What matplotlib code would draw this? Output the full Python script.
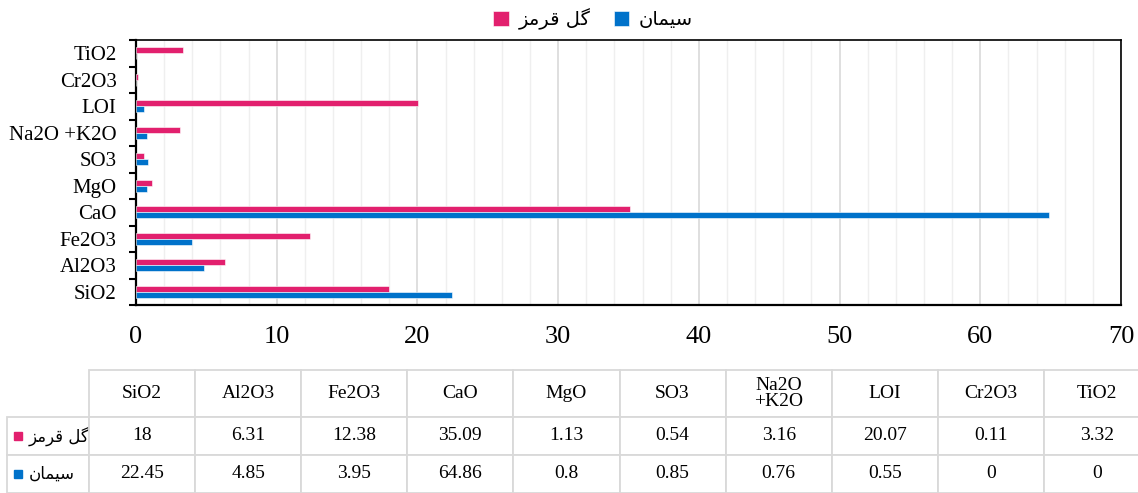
import matplotlib
matplotlib.use('Agg')
import matplotlib.pyplot as plt
from matplotlib.ticker import MultipleLocator
import numpy as np

plt.rcParams['font.family'] = ['Liberation Serif', 'DejaVu Sans']

# داده‌ها
categories = ['SiO2', 'Al2O3', 'Fe2O3', 'CaO', 'MgO', 'SO3', 'Na2O +K2O', 'LOI', 'Cr2O3', 'TiO2']
table_headers = ['SiO2', 'Al2O3', 'Fe2O3', 'CaO', 'MgO', 'SO3', 'Na2O\n+K2O', 'LOI', 'Cr2O3', 'TiO2']
red_mud = [18, 6.31, 12.38, 35.09, 1.13, 0.54, 3.16, 20.07, 0.11, 3.32]
cement = [22.45, 4.85, 3.95, 64.86, 0.8, 0.85, 0.76, 0.55, 0, 0]
red_mud_label = 'گل قرمز'
cement_label = 'سیمان'

PINK = '#E2206E'
BLUE = '#0072CA'
GRID = '#d9d9d9'

# matplotlib does no Arabic shaping: pick presentation forms by hand
FA_FORMS = {
    'س': ('\uFEB1', '\uFEB2', '\uFEB3', '\uFEB4'),
    'ی': ('\uFBFC', '\uFBFD', '\uFBFE', '\uFBFF'),
    'م': ('\uFEE1', '\uFEE2', '\uFEE3', '\uFEE4'),
    'ا': ('\uFE8D', '\uFE8E', None, None),
    'ن': ('\uFEE5', '\uFEE6', '\uFEE7', '\uFEE8'),
    'گ': ('\uFB92', '\uFB93', '\uFB94', '\uFB95'),
    'ل': ('\uFEDD', '\uFEDE', '\uFEDF', '\uFEE0'),
    'ق': ('\uFED5', '\uFED6', '\uFED7', '\uFED8'),
    'ر': ('\uFEAD', '\uFEAE', None, None),
    'ز': ('\uFEAF', '\uFEB0', None, None),
}


def fa(text):
    out = []
    for i, ch in enumerate(text):
        if ch not in FA_FORMS:
            out.append(ch)
            continue
        prev = text[i - 1] if i > 0 else ''
        nxt = text[i + 1] if i + 1 < len(text) else ''
        iso, fin, ini, med = FA_FORMS[ch]
        join_prev = prev in FA_FORMS and FA_FORMS[prev][2] is not None
        join_next = ini is not None and nxt in FA_FORMS
        if join_prev and join_next:
            out.append(med)
        elif join_prev:
            out.append(fin)
        elif join_next:
            out.append(ini)
        else:
            out.append(iso)
    return ''.join(reversed(out))


W, H = 1138, 493
fig = plt.figure(figsize=(W / 100, H / 100), dpi=100)
ax = fig.add_axes([136 / W, 1 - 305 / H, (1121 - 136) / W, (305 - 40) / H])

y = np.arange(len(categories))
h = 0.23
b_pink = ax.barh(y + h / 2, red_mud, height=h, color=PINK, edgecolor='white',
                 linewidth=0.4, label=fa(red_mud_label), zorder=3)
b_blue = ax.barh(y - h / 2, cement, height=h, color=BLUE, edgecolor='white',
                 linewidth=0.4, label=fa(cement_label), zorder=3)

ax.set_xlim(0, 70)
ax.set_ylim(-0.5, len(categories) - 0.5)
ax.xaxis.set_major_locator(MultipleLocator(10))
ax.xaxis.set_minor_locator(MultipleLocator(2))
ax.grid(which='major', axis='x', color=GRID, lw=1.2)
ax.grid(which='minor', axis='x', color='#efefef', lw=1.0)
ax.set_axisbelow(True)
ax.tick_params(axis='x', which='both', length=0, pad=15, labelsize=19)

ax.set_yticks(y)
ax.set_yticklabels(categories, fontsize=15)
ax.set_yticks(np.arange(-0.5, len(categories), 1), minor=True)
ax.tick_params(axis='y', which='major', length=0, pad=14)
ax.tick_params(axis='y', which='minor', length=5, width=1.5, direction='out')
for side in ['left', 'bottom']:
    ax.spines[side].set_linewidth(1.6)
for side in ['top', 'right']:
    ax.spines[side].set_linewidth(1.2)

fig.legend(handles=[b_pink, b_blue], loc='center', bbox_to_anchor=(593 / W, 1 - 19 / H),
           ncol=2, frameon=False, prop={'family': ['DejaVu Sans'], 'size': 14},
           handlelength=0.8, handleheight=0.8, handletextpad=0.5, columnspacing=1.2)

# جدول داده (ستون اول = نام سری)
label_w, col_w = 82, 106.1
row_h = [47, 38, 38]
total_w = label_w + col_w * len(categories)
total_h = sum(row_h)
tax = fig.add_axes([7 / W, 0, total_w / W, total_h / H])
tax.axis('off')

cell_text = [[fa(red_mud_label)] + [f'{v:g}' for v in red_mud],
             [fa(cement_label)] + [f'{v:g}' for v in cement]]
tbl = tax.table(cellText=cell_text, colLabels=[''] + table_headers,
                cellLoc='center', colLoc='center', bbox=[0, 0, 1, 1])
tbl.auto_set_font_size(False)
tbl.set_fontsize(14)
for (r, c), cell in tbl.get_celld().items():
    cell.set_edgecolor(GRID)
    cell.set_linewidth(1.3)
    cell.set_width(label_w if c == 0 else col_w)
    cell.set_height(row_h[r])
    if r == 0:
        cell.get_text().set_linespacing(1.0)
    if c == 0:
        if r == 0:
            cell.visible_edges = 'open'
        else:
            cell._loc = 'left'
            cell.get_text().set_horizontalalignment('left')
            cell.PAD = 0.26
            cell.get_text().set_fontfamily(['DejaVu Sans'])
            cell.get_text().set_fontsize(12)

key_x = (18 - 7) / total_w
for i, color in enumerate([PINK, BLUE]):
    key_y = 1 - (row_h[0] + sum(row_h[1:i + 1]) + row_h[i + 1] / 2) / total_h
    tax.plot([key_x], [key_y], marker='s', markersize=6, color=color,
             transform=tax.transAxes, clip_on=False)

fig.savefig('out.png', dpi=100)
